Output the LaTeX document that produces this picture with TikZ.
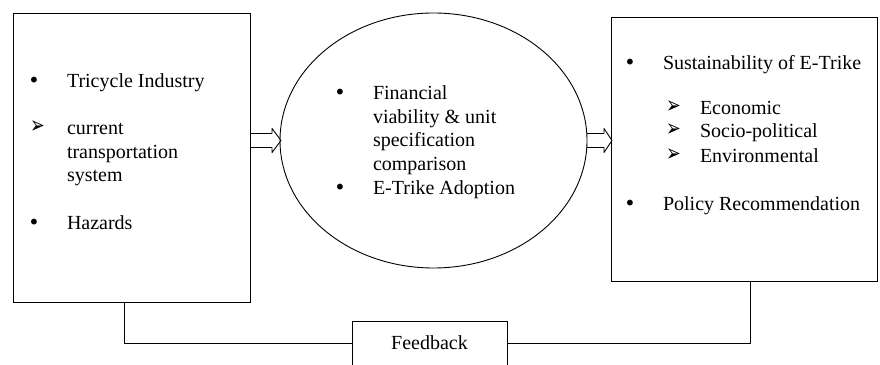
\documentclass[tikz,border=0pt]{standalone}
\usepackage{fontspec}
\setmainfont{Liberation Serif}
\newfontfamily\symfont{DejaVu Sans}
\usetikzlibrary{shapes.geometric,calc}

\begin{document}
\begin{tikzpicture}[x=1pt,y=1pt,
  txt/.style={text=drawColor,anchor=base west,inner sep=0pt,outer sep=0pt,
    font=\fontsize{20}{23.5}\selectfont},
  dotmark/.style={text=drawColor,anchor=base west,inner sep=0pt,outer sep=0pt,
    font=\symfont\fontsize{20}{23.5}\selectfont},
  arrowmark/.style={text=drawColor,anchor=base west,inner sep=0pt,outer sep=0pt,
    font=\symfont\fontsize{16}{18}\selectfont},
  box/.style={draw=drawColor,line width=0.9pt,inner sep=0pt,outer sep=0pt},
  link/.style={draw=drawColor,line width=0.9pt,line join=round}]
\definecolor{fillColor}{RGB}{255,255,255}
\definecolor{drawColor}{RGB}{0,0,0}
\path[use as bounding box,fill=fillColor] (0,0) rectangle (880,364);

% the three blocks
\node[box,minimum width=237pt,minimum height=289pt] (tri) at (131.5,206.5) {};
\node[box,ellipse,minimum width=307pt,minimum height=255pt] (fin) at (433.5,223.5) {};
\node[box,minimum width=266pt,minimum height=264pt] (sus) at (744,215) {};
\node[box,minimum width=155pt,minimum height=44pt,
  font=\fontsize{20}{23.5}\selectfont] (fb) at (429.5,21) {Feedback};

% left block
\node[dotmark] (b1) at (28,276) {•};
\node[txt] (t1) at (67,276) {Tricycle Industry};
\node[arrowmark] (a1) at (30,230) {\scalebox{1.1}[1.5]{➢}};
\node[txt] (t2) at (67,229) {\begin{tabular}[t]{@{}l@{}}current\\transportation\\system\end{tabular}};
\node[dotmark] (b2) at (28,134) {•};
\node[txt] (t3) at (67,134) {Hazards};

% middle block
\node[dotmark] (b3) at (334,264) {•};
\node[txt] (t4) at (373,264) {\begin{tabular}[t]{@{}l@{}}Financial\\viability \& unit\\specification\\comparison\end{tabular}};
\node[dotmark] (b4) at (334,169) {•};
\node[txt] (t5) at (373,169) {E-Trike Adoption};

% right block
\node[dotmark] (b5) at (624,294) {•};
\node[txt] (t6) at (663,294) {Sustainability of E-Trike};
\node[arrowmark] (a2) at (666,250) {\scalebox{1.1}[1.5]{➢}};
\node[txt] (t7) at (700,249) {Economic};
\node[arrowmark] (a3) at (666,227) {\scalebox{1.1}[1.5]{➢}};
\node[txt] (t8) at (700,226) {Socio-political};
\node[arrowmark] (a4) at (666,202) {\scalebox{1.1}[1.5]{➢}};
\node[txt] (t9) at (700,201) {Environmental};
\node[dotmark] (b6) at (624,153) {•};
\node[txt] (t10) at (663,153) {Policy Recommendation};

% hollow arrows between the blocks
\path[link] ($(tri.east|-fin.west)+(0,7)$) -- ($(fin.west)+(-8,7)$) --
	($(fin.west)+(-8,12)$) -- ($(fin.west)+(1,0)$) -- ($(fin.west)+(-8,-12)$) --
	($(fin.west)+(-8,-7)$) -- ($(tri.east|-fin.west)+(0,-7)$);

\path[link] ($(fin.east)+(0,7)$) -- ($(sus.west|-fin.east)+(-7,7)$) --
	($(sus.west|-fin.east)+(-7,12)$) -- ($(sus.west|-fin.east)+(1,0)$) --
	($(sus.west|-fin.east)+(-7,-12)$) -- ($(sus.west|-fin.east)+(-7,-7)$) --
	($(fin.east)+(0,-7)$);

% feedback loop
\path[link] ($(tri.south)+(-7,0)$) |- (fb.west);
\path[link] ($(sus.south)+(6,0)$) |- (fb.east);
\end{tikzpicture}
\end{document}
